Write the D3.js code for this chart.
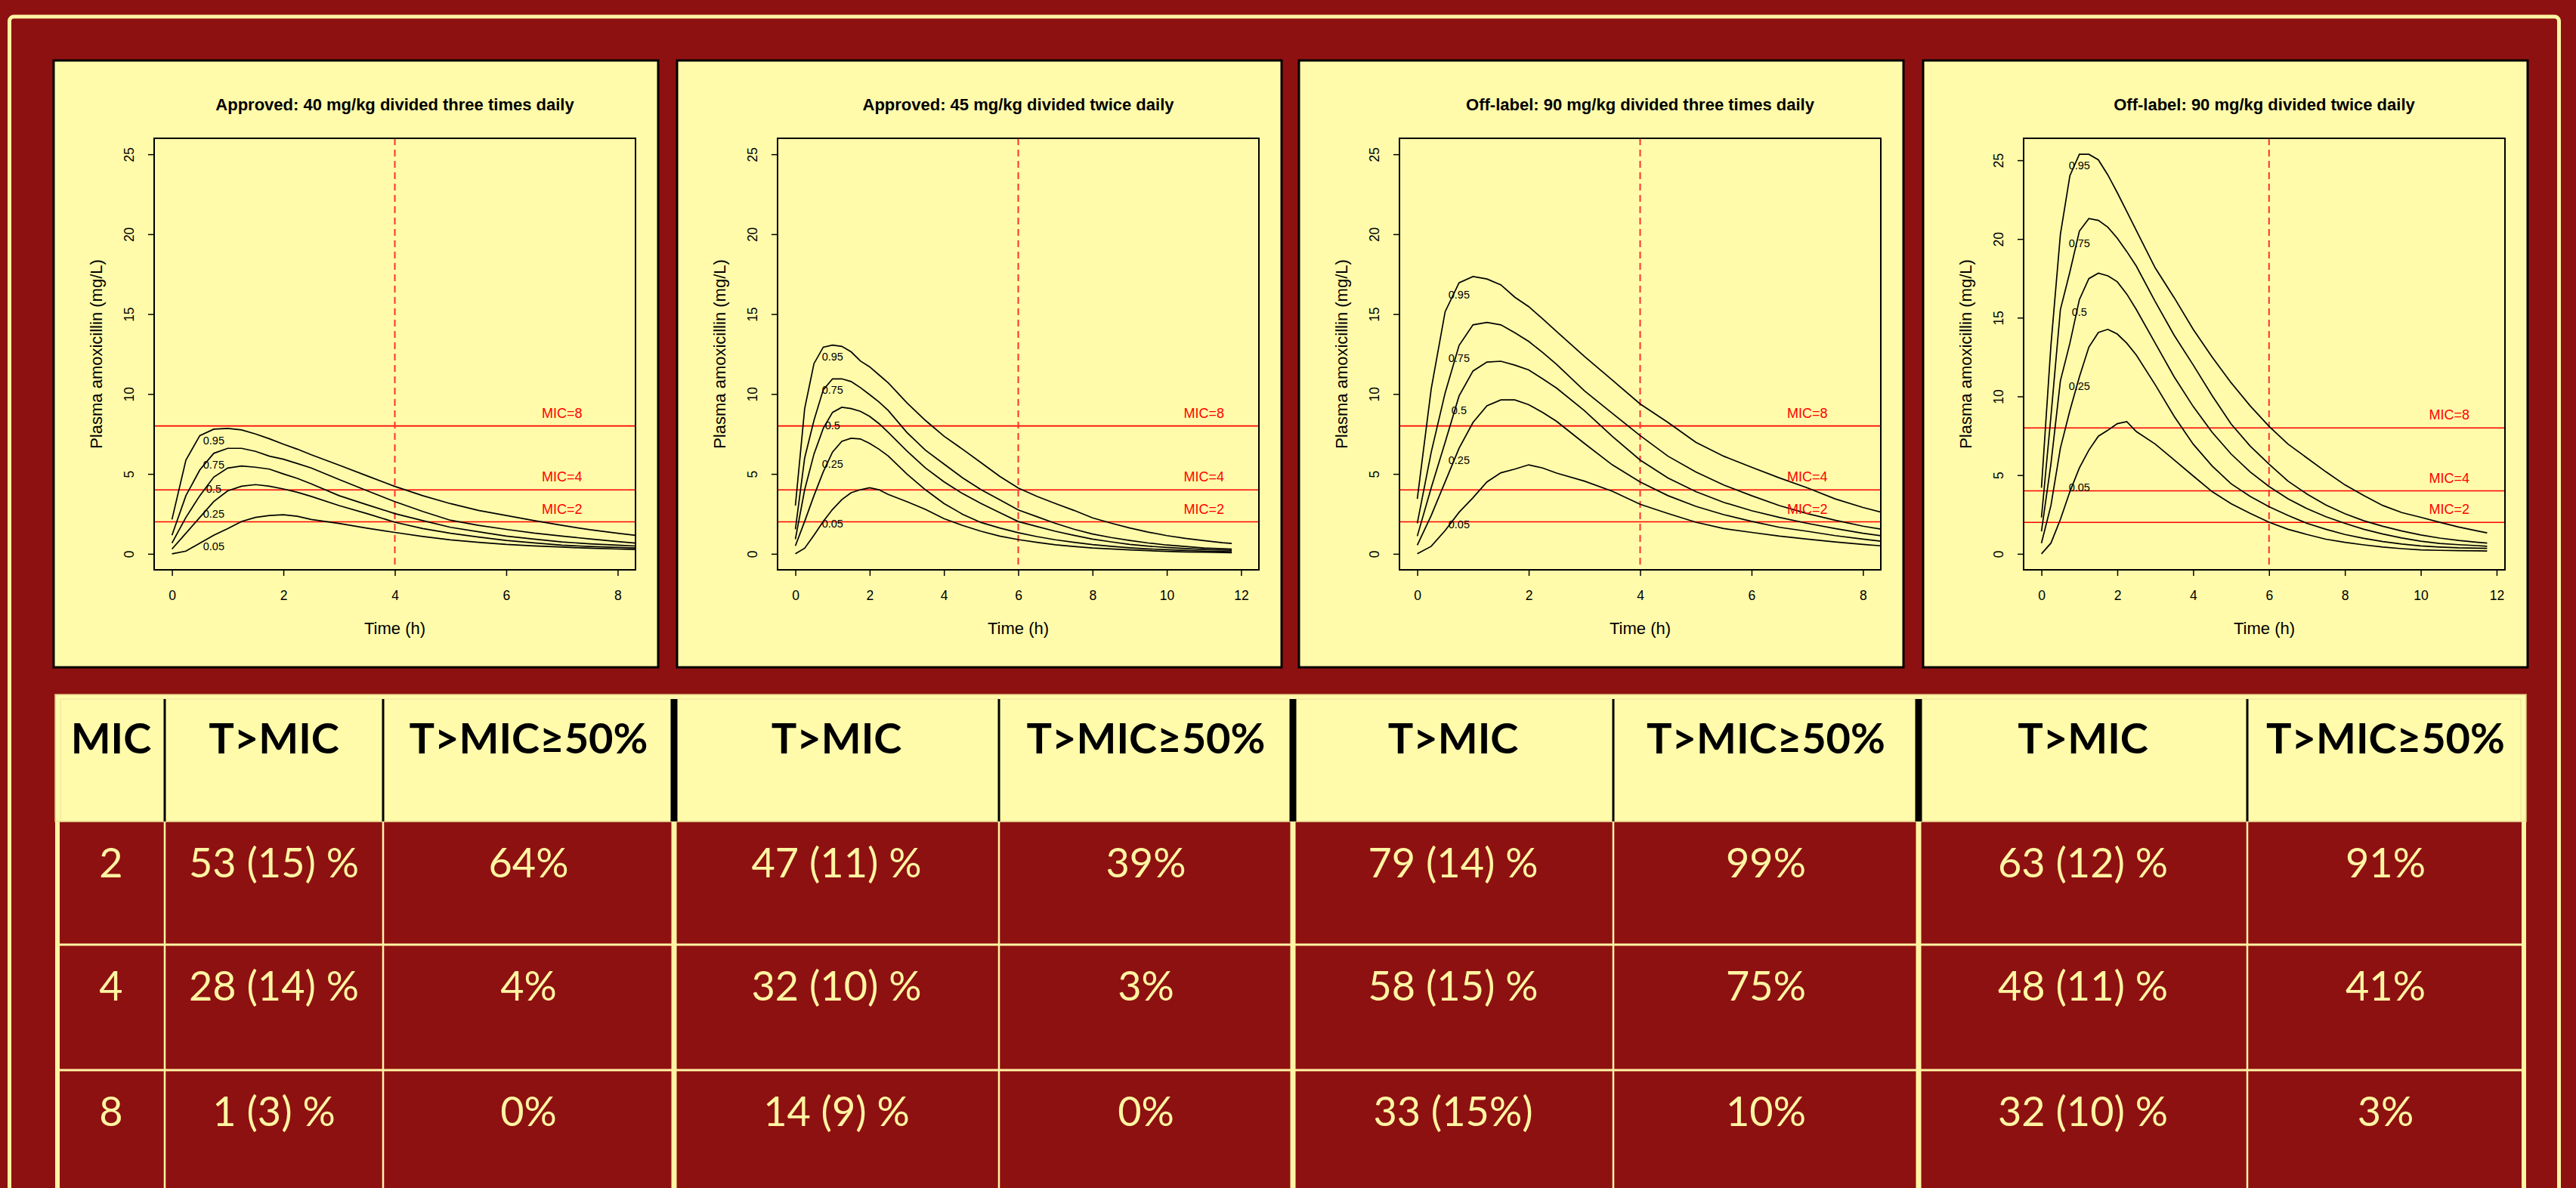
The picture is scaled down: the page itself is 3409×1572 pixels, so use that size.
<!DOCTYPE html>
<html>
<head>
<meta charset="utf-8">
<script src="https://cdn.jsdelivr.net/npm/d3@7"></script>
<style>
  body { margin: 0; background: #8e1111; }
  svg { display: block; }
</style>
</head>
<body>
<svg id="chart" width="3409" height="1572"></svg>
<script>
// ---- data ----
const timesTID = [0, 0.25, 0.5, 0.75, 1, 1.25, 1.5, 1.75, 2, 2.25, 2.5, 3, 3.5, 4, 4.5, 5, 5.5, 6, 6.5, 7, 7.5, 8, 8.5]
const timesBID = [0, 0.25, 0.5, 0.75, 1, 1.25, 1.5, 1.75, 2, 2.25, 2.5, 3, 3.5, 4, 4.5, 5, 5.5, 6, 6.5, 7, 7.5, 8, 8.5, 9, 9.5, 10, 10.5, 11, 11.5, 11.75]

const percentiles = ['0.95', '0.75', '0.5', '0.25', '0.05']

const titles = [
  'Approved: 40 mg/kg divided three times daily',
  'Approved: 45 mg/kg divided twice daily',
  'Off-label: 90 mg/kg divided three times daily',
  'Off-label: 90 mg/kg divided twice daily'
]

// concentration percentiles (mg/L), one row per percentile 0.95 .. 0.05
const conc40tid = [
  [2.15, 5.87, 7.40, 7.80, 7.85, 7.75, 7.50, 7.20, 6.86, 6.55, 6.20, 5.55, 4.88, 4.22, 3.64, 3.14, 2.72, 2.40, 2.08, 1.78, 1.51, 1.29, 1.09],
  [1.16, 3.64, 5.25, 6.29, 6.60, 6.60, 6.41, 6.11, 5.92, 5.65, 5.37, 4.65, 3.95, 3.27, 2.65, 2.10, 1.78, 1.53, 1.30, 1.11, 0.93, 0.77, 0.62],
  [0.67, 2.28, 3.64, 4.80, 5.37, 5.50, 5.42, 5.30, 5.00, 4.72, 4.38, 3.64, 3.07, 2.52, 2.08, 1.66, 1.38, 1.11, 0.92, 0.74, 0.63, 0.54, 0.46],
  [0.30, 1.29, 2.28, 3.27, 3.94, 4.23, 4.33, 4.23, 4.06, 3.85, 3.59, 3.02, 2.52, 1.98, 1.58, 1.29, 1.05, 0.84, 0.68, 0.54, 0.46, 0.40, 0.35],
  [0.00, 0.17, 0.67, 1.16, 1.58, 2.03, 2.28, 2.40, 2.45, 2.35, 2.15, 1.90, 1.61, 1.34, 1.09, 0.87, 0.72, 0.59, 0.50, 0.42, 0.35, 0.30, 0.26]
]
const conc45bid = [
  [3.02, 9.09, 11.90, 12.93, 13.06, 12.98, 12.64, 12.07, 11.70, 11.20, 10.70, 9.46, 8.35, 7.36, 6.55, 5.70, 4.85, 4.12, 3.60, 3.15, 2.72, 2.25, 1.92, 1.62, 1.36, 1.14, 0.97, 0.83, 0.70, 0.65],
  [1.54, 6.00, 8.35, 10.26, 10.95, 10.95, 10.78, 10.40, 9.96, 9.50, 8.97, 7.60, 6.49, 5.62, 4.76, 4.01, 3.39, 2.75, 2.33, 1.91, 1.54, 1.24, 1.02, 0.84, 0.68, 0.55, 0.46, 0.37, 0.32, 0.30],
  [0.92, 4.01, 6.24, 7.85, 8.85, 9.17, 9.09, 8.92, 8.60, 8.15, 7.60, 6.44, 5.38, 4.51, 3.77, 3.15, 2.58, 2.02, 1.71, 1.41, 1.16, 0.92, 0.75, 0.59, 0.48, 0.40, 0.33, 0.27, 0.23, 0.22],
  [0.50, 2.03, 3.64, 5.13, 6.37, 7.04, 7.23, 7.19, 6.91, 6.55, 6.12, 5.00, 4.01, 3.15, 2.48, 1.96, 1.62, 1.32, 1.08, 0.88, 0.72, 0.58, 0.47, 0.38, 0.31, 0.26, 0.21, 0.17, 0.14, 0.13],
  [0.00, 0.35, 1.16, 2.03, 2.78, 3.39, 3.82, 4.01, 4.14, 4.01, 3.72, 3.27, 2.78, 2.20, 1.78, 1.41, 1.11, 0.89, 0.72, 0.57, 0.46, 0.37, 0.31, 0.25, 0.20, 0.15, 0.12, 0.10, 0.08, 0.07]
]
const conc90tid = [
  [3.44, 10.32, 15.15, 16.96, 17.35, 17.20, 16.83, 16.06, 15.47, 14.70, 13.91, 12.35, 10.87, 9.38, 8.22, 6.98, 6.11, 5.42, 4.75, 4.13, 3.44, 2.90, 2.45],
  [1.91, 6.36, 10.07, 13.04, 14.33, 14.48, 14.33, 13.84, 13.29, 12.60, 11.86, 10.20, 8.79, 7.40, 6.11, 5.12, 4.31, 3.64, 3.02, 2.52, 2.10, 1.73, 1.45],
  [1.11, 4.13, 6.98, 9.88, 11.44, 12.00, 12.05, 11.81, 11.51, 10.95, 10.37, 8.96, 7.35, 5.87, 4.75, 3.89, 3.22, 2.70, 2.28, 1.91, 1.58, 1.29, 1.05],
  [0.54, 2.40, 4.50, 6.61, 8.22, 9.26, 9.63, 9.63, 9.33, 8.85, 8.29, 6.91, 5.57, 4.50, 3.64, 2.97, 2.45, 2.03, 1.66, 1.41, 1.14, 0.92, 0.72],
  [0.00, 0.47, 1.46, 2.60, 3.51, 4.50, 5.07, 5.30, 5.57, 5.37, 5.05, 4.55, 3.92, 3.10, 2.52, 1.98, 1.58, 1.34, 1.11, 0.92, 0.74, 0.59, 0.45]
]
const conc90bid = [
  [4.20, 13.25, 20.30, 24.02, 25.38, 25.38, 25.03, 24.07, 22.94, 21.75, 20.55, 18.16, 16.27, 14.26, 12.50, 10.87, 9.41, 8.10, 6.97, 6.09, 5.21, 4.38, 3.70, 3.07, 2.62, 2.32, 2.00, 1.70, 1.45, 1.33],
  [2.31, 8.73, 15.52, 17.91, 20.50, 21.30, 21.18, 20.75, 20.05, 19.20, 18.28, 16.02, 13.88, 12.00, 10.05, 8.25, 6.85, 5.70, 4.62, 3.80, 3.10, 2.55, 2.10, 1.75, 1.45, 1.20, 1.00, 0.85, 0.73, 0.68],
  [1.43, 5.71, 10.99, 13.38, 16.15, 17.48, 17.83, 17.66, 17.28, 16.50, 15.52, 13.38, 11.24, 9.36, 7.72, 6.34, 5.21, 4.28, 3.50, 2.87, 2.36, 1.94, 1.56, 1.26, 1.01, 0.80, 0.66, 0.58, 0.52, 0.48],
  [0.68, 3.07, 6.72, 9.10, 11.24, 13.13, 14.06, 14.26, 13.96, 13.38, 12.63, 10.74, 8.73, 6.97, 5.58, 4.45, 3.65, 2.99, 2.44, 1.94, 1.56, 1.23, 0.98, 0.78, 0.62, 0.50, 0.43, 0.38, 0.36, 0.35],
  [0.00, 0.68, 2.19, 3.95, 5.46, 6.59, 7.47, 7.85, 8.27, 8.40, 7.77, 6.97, 5.96, 4.95, 3.95, 3.19, 2.57, 2.01, 1.56, 1.23, 0.93, 0.73, 0.57, 0.43, 0.33, 0.25, 0.22, 0.20, 0.19, 0.18]
]

const xMax = [8, 12, 8, 11.75]          // time range of each panel's x axis
const xTicks = [[0, 2, 4, 6, 8], [0, 2, 4, 6, 8, 10, 12], [0, 2, 4, 6, 8], [0, 2, 4, 6, 8, 10, 12]]
const yTicks = [0, 5, 10, 15, 20, 25]
const halfInterval = [4, 6, 4, 6]       // dashed line (h)
const micLevels = [2, 4, 8]
const labelTime = [0.75, 1, 0.75, 1]    // where the percentile labels sit
const labelConc = [
  [7.08, 5.57, 4.06, 2.52, 0.47],
  [12.36, 10.26, 8.05, 5.60, 1.91],
  [16.2, 12.25, 9.0, 5.84, 1.83],
  [24.65, 19.74, 15.37, 10.66, 4.2]
]

// table
const tableHeader = ['MIC', 'T>MIC', 'T>MIC≥50%', 'T>MIC', 'T>MIC≥50%', 'T>MIC', 'T>MIC≥50%', 'T>MIC', 'T>MIC≥50%']
const tableRows = [
  ['2', '53 (15) %', '64%', '47 (11) %', '39%', '79 (14) %', '99%', '63 (12) %', '91%'],
  ['4', '28 (14) %', '4%', '32 (10) %', '3%', '58 (15) %', '75%', '48 (11) %', '41%'],
  ['8', '1 (3) %', '0%', '14 (9) %', '0%', '33 (15%)', '10%', '32 (10) %', '3%']
]

const panels = [
  {times: timesTID, conc: conc40tid},
  {times: timesBID, conc: conc45bid},
  {times: timesTID, conc: conc90tid},
  {times: timesBID, conc: conc90bid}
]

// ---- layout ----
const yellow = '#fffbaa'
const red = '#8e1111'
const txtYellow = '#fff5a3'
const svg = d3.select('#chart')

svg.append('rect').attr('width', 3409).attr('height', 1572).attr('fill', red)
svg.append('rect')
  .attr('x', 12.5).attr('y', 22).attr('width', 3374).attr('height', 1620)
  .attr('rx', 6).attr('fill', 'none').attr('stroke', txtYellow).attr('stroke-width', 5)

const panelX = [71, 896, 1719, 2545]
const panelY = 80
const panelW = 800, panelH = 803
const box = {left: 133, right: 770, top: 103, bottom: 674}
const rFont = 'Liberation Sans, Arial, Helvetica, sans-serif'

// R style range: 4% extension on each side
const ext = (lo, hi) => [lo - 0.04 * (hi - lo), hi + 0.04 * (hi - lo)]

panels.forEach((p, i) => {
  const g = svg.append('g').attr('transform', `translate(${panelX[i]},${panelY})`)

  g.append('rect')
    .attr('width', panelW).attr('height', panelH)
    .attr('fill', yellow).attr('stroke', 'black').attr('stroke-width', 3)

  const yTop = Math.max(25, d3.max(p.conc.flat()))
  const x = d3.scaleLinear().domain(ext(0, xMax[i])).range([box.left, box.right])
  const y = d3.scaleLinear().domain(ext(0, yTop)).range([box.bottom, box.top])

  g.append('clipPath').attr('id', 'clip' + i)
    .append('rect').attr('x', box.left).attr('y', box.top)
    .attr('width', box.right - box.left).attr('height', box.bottom - box.top)

  const plot = g.append('g').attr('clip-path', `url(#clip${i})`)

  // MIC lines
  plot.selectAll('.mic').data(micLevels).join('line')
    .attr('x1', box.left).attr('x2', box.right)
    .attr('y1', d => y(d)).attr('y2', d => y(d))
    .attr('stroke', '#ff0000').attr('stroke-width', 1.6)

  // dashed line at half the dosing interval
  plot.append('line')
    .attr('x1', x(halfInterval[i])).attr('x2', x(halfInterval[i]))
    .attr('y1', box.top).attr('y2', box.bottom)
    .attr('stroke', '#ff3030').attr('stroke-width', 2)
    .attr('stroke-dasharray', '9,6')

  const line = d3.line().x((d, k) => x(p.times[k])).y(d => y(d))
  plot.selectAll('.curve').data(p.conc).join('path')
    .attr('d', line)
    .attr('fill', 'none').attr('stroke', 'black').attr('stroke-width', 1.7)

  // percentile labels
  g.selectAll('.pct').data(labelConc[i]).join('text')
    .attr('x', x(labelTime[i])).attr('y', d => y(d))
    .attr('dy', '0.35em')
    .attr('text-anchor', 'middle')
    .attr('font-family', rFont).attr('font-size', 14.5)
    .text((d, k) => percentiles[k])

  // MIC labels
  g.selectAll('.miclab').data(micLevels).join('text')
    .attr('x', x(xMax[i] - 1)).attr('y', d => y(d) - 11)
    .attr('text-anchor', 'middle')
    .attr('font-family', rFont).attr('font-size', 18)
    .attr('fill', '#ff0000')
    .text(d => `MIC=${d}`)

  // box
  g.append('rect')
    .attr('x', box.left).attr('y', box.top)
    .attr('width', box.right - box.left).attr('height', box.bottom - box.top)
    .attr('fill', 'none').attr('stroke', 'black').attr('stroke-width', 2)

  // axes
  const xAxis = g.append('g').attr('transform', `translate(0,${box.bottom})`)
    .call(d3.axisBottom(x).tickValues(xTicks[i]).tickSize(8).tickPadding(20))
  const yAxis = g.append('g').attr('transform', `translate(${box.left},0)`)
    .call(d3.axisLeft(y).tickValues(yTicks).tickSize(8))

  ;[xAxis, yAxis].forEach(a => {
    a.select('.domain').remove()
    a.selectAll('line').attr('stroke', 'black').attr('stroke-width', 1.5)
    a.selectAll('text').attr('font-family', rFont).attr('font-size', 17.5).attr('fill', 'black')
  })
  yAxis.selectAll('text')
    .attr('transform', 'rotate(-90)')
    .attr('x', 0).attr('y', -27).attr('dy', 0)
    .attr('text-anchor', 'middle')

  // titles
  const cx = (box.left + box.right) / 2
  g.append('text')
    .attr('x', cx).attr('y', 66)
    .attr('text-anchor', 'middle')
    .attr('font-family', rFont).attr('font-size', 22).attr('font-weight', 'bold')
    .text(titles[i])
  g.append('text')
    .attr('x', cx).attr('y', box.bottom + 85)
    .attr('text-anchor', 'middle')
    .attr('font-family', rFont).attr('font-size', 22)
    .text('Time (h)')
  g.append('text')
    .attr('transform', `translate(${box.left - 69},${(box.top + box.bottom) / 2}) rotate(-90)`)
    .attr('text-anchor', 'middle')
    .attr('font-family', rFont).attr('font-size', 22)
    .text('Plasma amoxicillin (mg/L)')
})

// ---- table ----
const colEdges = [76, 218, 507, 892, 1322, 1711, 2135, 2539, 2974, 3340]
const groupEdge = [false, false, false, true, false, true, false, true, false, false]
const rowEdges = [919, 1087, 1250, 1416, 1582]
const tFont = 'Lato, "Open Sans", sans-serif'
const table = svg.append('g')

table.append('rect')
  .attr('x', 73).attr('y', rowEdges[0]).attr('width', 3343 - 73).attr('height', rowEdges[1] - rowEdges[0])
  .attr('fill', yellow).attr('stroke', '#e2cc86').attr('stroke-width', 1.5)
table.append('rect')
  .attr('x', 80).attr('y', rowEdges[0] + 6).attr('width', 3336 - 80).attr('height', rowEdges[1] - rowEdges[0] - 6)
  .attr('fill', 'none').attr('stroke', '#eee0a0').attr('stroke-width', 1)

// header separators
colEdges.slice(1, -1).forEach((cxe, k) => {
  const thick = groupEdge[k + 1]
  table.append('line')
    .attr('x1', cxe).attr('x2', cxe)
    .attr('y1', rowEdges[0] + 6).attr('y2', rowEdges[1])
    .attr('stroke', 'black').attr('stroke-width', thick ? 9 : 3)
})

// data grid
table.append('rect').attr('x', 73).attr('y', rowEdges[1]).attr('width', 6).attr('height', 1572 - rowEdges[1]).attr('fill', txtYellow)
table.append('rect').attr('x', 3337).attr('y', rowEdges[1]).attr('width', 6).attr('height', 1572 - rowEdges[1]).attr('fill', txtYellow)
rowEdges.slice(2, 4).forEach(ry => {
  table.append('line').attr('x1', 79).attr('x2', 3337).attr('y1', ry).attr('y2', ry)
    .attr('stroke', txtYellow).attr('stroke-width', 3)
})
colEdges.slice(1, -1).forEach((cxe, k) => {
  const thick = groupEdge[k + 1]
  table.append('line')
    .attr('x1', cxe).attr('x2', cxe)
    .attr('y1', rowEdges[1]).attr('y2', 1572)
    .attr('stroke', txtYellow).attr('stroke-width', thick ? 7 : 2.5)
})

const colCenter = k => (colEdges[k] + colEdges[k + 1]) / 2

table.selectAll('.hdr').data(tableHeader).join('text')
  .attr('x', (d, k) => colCenter(k)).attr('y', rowEdges[0] + 78)
  .attr('text-anchor', 'middle')
  .attr('font-family', tFont).attr('font-size', 56).attr('font-weight', 'bold')
  .attr('fill', 'black')
  .text(d => d)

tableRows.forEach((row, r) => {
  table.selectAll('.cell' + r).data(row).join('text')
    .attr('x', (d, k) => colCenter(k)).attr('y', rowEdges[r + 1] + 74)
    .attr('text-anchor', 'middle')
    .attr('font-family', tFont).attr('font-size', 54)
    .attr('fill', txtYellow)
    .text(d => d)
})
</script>
</body>
</html>
